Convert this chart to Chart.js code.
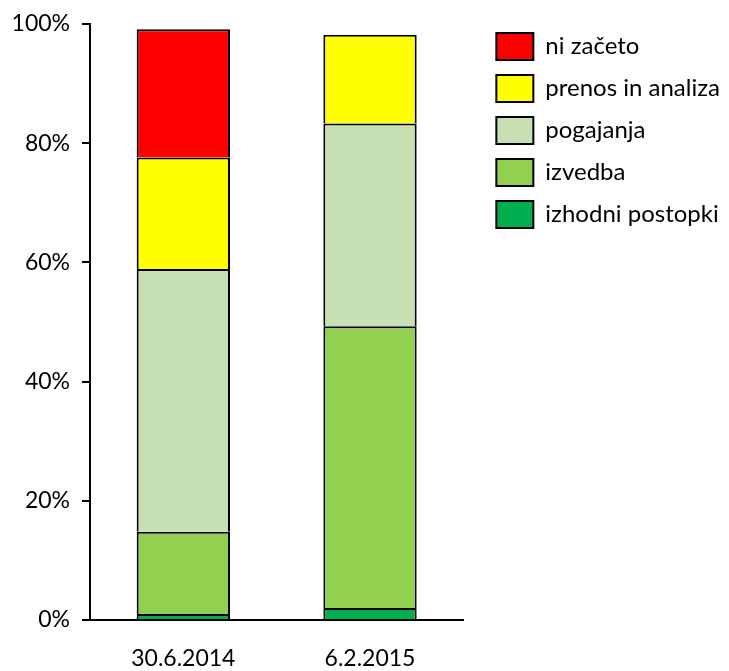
<!DOCTYPE html>
<html>
<head>
<meta charset="utf-8">
<script src="https://cdn.jsdelivr.net/npm/chart.js@4/dist/chart.umd.min.js"></script>
<style>
  html, body { margin: 0; padding: 0; background: #fff; }
  #wrap { width: 729px; height: 671px; position: relative; }
</style>
</head>
<body>
<div id="wrap"><canvas id="c" width="729" height="671"></canvas></div>
<script>
const categories = ['30.6.2014', '6.2.2015'];
const izhodniPostopki = [1.0, 2.0];
const izvedba = [13.8, 47.3];
const pogajanja = [44.1, 34.0];
const prenosInAnaliza = [18.7, 14.9];
const niZaceto = [21.5, null];
const yTicks = [0, 20, 40, 60, 80, 100];

const FONT = 'Lato, "Open Sans", sans-serif';
Chart.defaults.color = '#000';
Chart.defaults.font.family = FONT;

function ds(label, data, color) {
  return {
    label, data,
    backgroundColor: color,
    borderColor: '#000',
    borderWidth: 2,
    categoryPercentage: 0.5,
    barPercentage: 1.0
  };
}

new Chart(document.getElementById('c'), {
  type: 'bar',
  data: {
    labels: categories,
    datasets: [
      ds('izhodni postopki', izhodniPostopki, '#00B050'),
      ds('izvedba', izvedba, '#92D050'),
      ds('pogajanja', pogajanja, '#C6E0B4'),
      ds('prenos in analiza', prenosInAnaliza, '#FFFF00'),
      ds('ni začeto', niZaceto, '#FF0000')
    ]
  },
  options: {
    responsive: false,
    animation: false,
    layout: { padding: { top: 18, left: 0, right: -1, bottom: 0 } },
    plugins: {
      tooltip: { enabled: false },
      legend: {
        position: 'right',
        align: 'start',
        reverse: true,
        maxWidth: 300,
        labels: {
          boxWidth: 37,
          boxHeight: 27,
          padding: 15,
          color: '#000',
          font: { size: 24, family: FONT }
        }
      }
    },
    scales: {
      x: {
        stacked: true,
        grid: { display: true, drawOnChartArea: false, drawTicks: false },
        border: { display: true, color: '#000', width: 2 },
        ticks: { padding: 25, color: '#000', font: { size: 23, family: FONT } },
        afterFit: s => { s.height = 51; }
      },
      y: {
        stacked: true,
        min: 0,
        max: 100,
        afterBuildTicks: s => { s.ticks = yTicks.map(v => ({ value: v })); },
        grid: { display: true, drawOnChartArea: false, drawTicks: true, tickLength: 8, color: '#000', lineWidth: 2 },
        border: { display: true, color: '#000', width: 2 },
        ticks: {
          padding: 12,
          color: '#000',
          font: { size: 23, family: FONT },
          callback: v => v + '%'
        },
        afterFit: s => { s.width = 90; s.paddingTop = 24; }
      },
      spacer: {
        type: 'linear',
        position: 'right',
        display: true,
        grid: { display: false },
        border: { display: false },
        ticks: { display: false },
        afterFit: s => { s.width = 18; }
      }
    }
  }
});
</script>
</body>
</html>
